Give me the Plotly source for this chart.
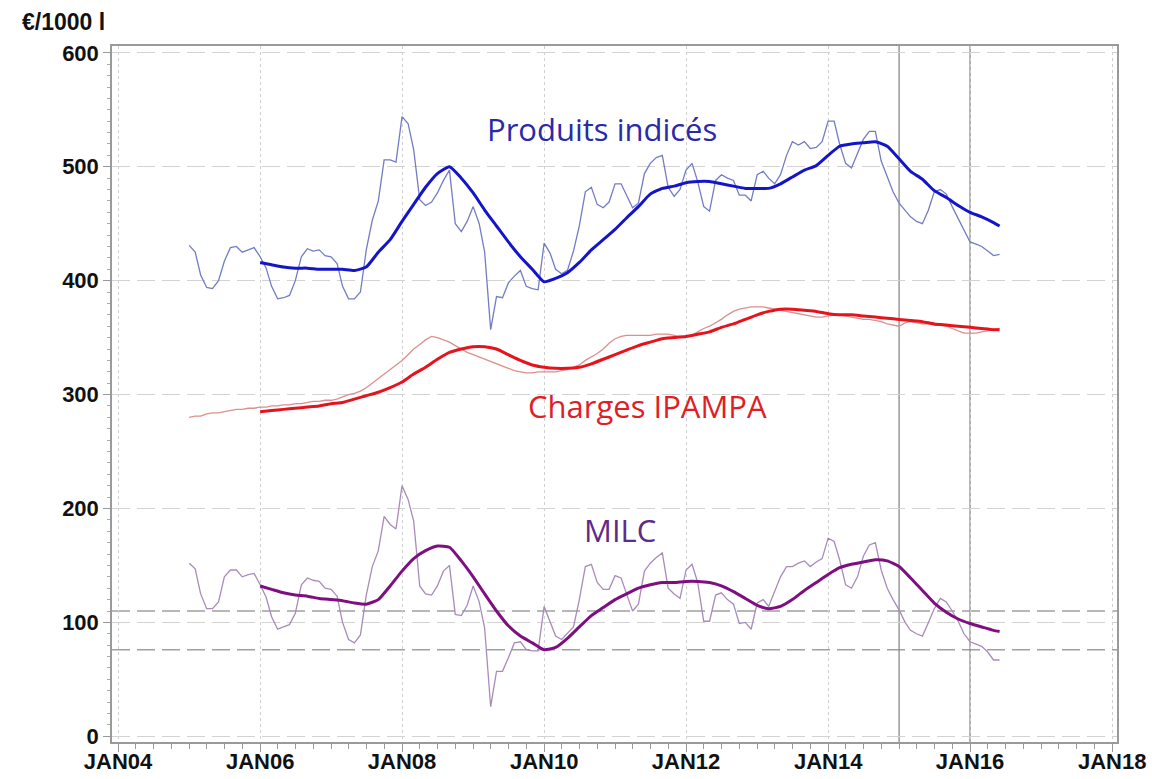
import pandas as pd
import plotly.graph_objects as go

# ---------------- data ----------------
months = pd.date_range("2005-01-01", "2016-06-01", freq="MS")
smooth_dates = list(pd.date_range("2006-01-01", "2016-05-01", freq="2MS")) + [pd.Timestamp("2016-06-01")]

produits = [
    431, 425, 405, 394, 393, 400, 417, 429, 430, 425, 427, 429,   # 2005
    421, 411, 395, 384, 385, 387, 400, 421, 428, 426, 427, 422,   # 2006
    421, 415, 395, 384, 384, 390, 427, 453, 470, 506, 506, 504,   # 2007
    544, 538, 515, 471, 466, 469, 477, 488, 497, 450, 443, 452,   # 2008
    465, 450, 425, 357, 386, 385, 398, 404, 409, 395, 393, 392,   # 2009
    433, 424, 410, 406, 409, 426, 448, 478, 482, 467, 464, 469,   # 2010
    485, 485, 475, 464, 468, 494, 503, 508, 510, 482, 474, 480,   # 2011
    497, 503, 487, 465, 461, 488, 493, 490, 488, 475, 475, 470,   # 2012
    493, 496, 490, 485, 493, 510, 522, 519, 522, 516, 517, 522,   # 2013
    540, 540, 520, 503, 499, 511, 524, 531, 531, 505, 492, 478,   # 2014
    468, 462, 456, 452, 450, 462, 478, 480, 476, 465, 455, 445,   # 2015
    434, 432, 430, 426, 422, 423,                                 # 2016
]
charges = [
    280, 281, 281, 283, 284, 284, 285, 286, 287, 287, 288, 288,
    289, 289, 290, 290, 291, 291, 292, 292, 293, 294, 294, 295,
    295, 296, 298, 300, 301, 303, 306, 310, 314, 318, 322, 326,
    330, 335, 340, 344, 348, 351, 350, 348, 346, 343, 340, 337,
    335, 333, 331, 329, 327, 325, 323, 321, 320, 319, 319, 320,
    320, 320, 320, 321, 322, 324, 326, 330, 333, 336, 340, 345,
    349, 351, 352, 352, 352, 352, 352, 353, 353, 353, 352, 351,
    351, 352, 355, 358, 360, 363, 366, 370, 373, 375, 376, 377,
    377, 377, 376, 375, 374, 373, 372, 371, 370, 369, 368, 368,
    369, 370, 370, 369, 368, 367, 366, 366, 365, 364, 362, 361,
    360, 363, 364, 363, 362, 362, 361, 361, 360, 358, 356, 354,
    354, 354, 355, 356, 357, 358,
]
milc = [
    152, 147, 125, 112, 112, 118, 140, 146, 146, 140, 142, 143,
    133, 122, 105, 94, 96, 98, 108, 133, 139, 137, 136, 130,
    129, 123, 100, 85, 82, 89, 124, 149, 163, 193, 186, 182,
    220, 208, 189, 132, 125, 124, 132, 145, 150, 107, 106, 115,
    132, 118, 95, 26, 57, 57, 69, 82, 83, 76, 75, 75,
    114, 100, 88, 85, 90, 96, 120, 149, 151, 135, 129, 129,
    141, 139, 125, 110, 116, 145, 152, 157, 161, 130, 125, 121,
    146, 151, 135, 101, 101, 124, 126, 120, 116, 99, 100, 94,
    117, 120, 114, 128, 140, 149, 149, 152, 154, 149, 153, 156,
    174, 171, 155, 133, 130, 140, 158, 168, 170, 146, 130, 120,
    111, 100, 93, 90, 88, 100, 112, 121, 118, 110, 101, 90,
    83, 81, 79, 74, 67, 67,
]

# smoothed (12-month) curves, read every two months from Jan 2006, last point Jun 2016
produits_smooth = [
    416, 414, 412, 411, 411, 410,   # 2006
    410, 410, 409, 412, 425, 436,   # 2007
    452, 467, 482, 494, 500, 490,   # 2008
    477, 462, 448, 434, 421, 410,   # 2009
    399, 402, 407, 416, 427, 436,   # 2010
    445, 455, 465, 476, 481, 483,   # 2011
    486, 487, 487, 485, 483, 481,   # 2012
    481, 481, 485, 491, 497, 501,   # 2013
    510, 518, 520, 521, 522, 518,   # 2014
    507, 496, 489, 479, 473, 466,   # 2015
    460, 456, 451, 448,             # 2016
]
charges_smooth = [
    285, 286, 287, 288, 289, 290,
    292, 293, 296, 299, 302, 306,
    311, 318, 324, 331, 337, 340,
    342, 342, 340, 335, 330, 326,
    324, 323, 323, 324, 327, 331,
    335, 339, 343, 346, 349, 350,
    351, 353, 355, 359, 362, 366,
    370, 373, 375, 375, 374, 373,
    371, 370, 370, 369, 368, 367,
    366, 365, 364, 362, 361, 360,
    359, 358, 357, 357,
]
milc_smooth = [
    132, 129, 126, 124, 123, 121,
    120, 119, 117, 116, 120, 132,
    145, 156, 163, 167, 166, 154,
    140, 125, 110, 97, 88, 82,
    76, 78, 86, 96, 106, 113,
    120, 125, 130, 133, 135, 135,
    136, 136, 135, 132, 127, 121,
    115, 112, 114, 120, 128, 135,
    142, 148, 151, 153, 155, 154,
    149, 139, 128, 117, 109, 103,
    99, 96, 93, 92,
]

tick_dates = ["2004-01-01", "2006-01-01", "2008-01-01", "2010-01-01",
              "2012-01-01", "2014-01-01", "2016-01-01", "2018-01-01"]
tick_labels = ["JAN04", "JAN06", "JAN08", "JAN10", "JAN12", "JAN14", "JAN16", "JAN18"]
y_ticks = [0, 100, 200, 300, 400, 500, 600]
ref_levels = [110, 76]
event_dates = ["2015-01-01", "2016-01-01"]

# ---------------- figure ----------------
fig = go.Figure()

thin = [(produits, "#737cc4"), (charges, "#dc8f8f"), (milc, "#a98bbb")]
thick = [(produits_smooth, "#1515c8"), (charges_smooth, "#e5141c"), (milc_smooth, "#7e0f80")]

for vals, col in thin:
    fig.add_trace(go.Scatter(x=months, y=vals, mode="lines",
                             line=dict(color=col, width=1.3), hoverinfo="skip"))
for vals, col in thick:
    fig.add_trace(go.Scatter(x=smooth_dates, y=vals, mode="lines",
                             line=dict(color=col, width=3, shape="spline", smoothing=0.5),
                             hoverinfo="skip"))

for lv in ref_levels:
    fig.add_shape(type="line", xref="paper", x0=0, x1=1, yref="y", y0=lv, y1=lv,
                  line=dict(color="#a0a0a0", width=1.6, dash="18px,7px"), layer="between")
for d in event_dates:
    fig.add_shape(type="line", xref="x", x0=d, x1=d, yref="paper", y0=0, y1=1,
                  line=dict(color="#8a8a8a", width=1.3), layer="between")

label_font = "Open Sans, Noto Sans, sans-serif"
fig.add_annotation(x="2010-10-26", y=533, text="Produits indicés", showarrow=False,
                   font=dict(family=label_font, size=31, color="#2a2aa8"))
fig.add_annotation(x="2011-06-18", y=290, text="Charges IPAMPA", showarrow=False,
                   font=dict(family=label_font, size=31, color="#e01e26"))
fig.add_annotation(x="2011-01-26", y=181, text="MILC", showarrow=False,
                   font=dict(family=label_font, size=31, color="#5e2b86"))
fig.add_annotation(xref="paper", yref="paper", x=-0.092, y=1.0, yshift=24,
                   xanchor="left", yanchor="middle", text="<b>€/1000 l</b>", showarrow=False,
                   font=dict(family="Liberation Sans, Arial, sans-serif", size=23, color="#111"))

fig.update_layout(
    width=1147, height=771,
    margin=dict(l=104, r=38, t=38, b=37, autoexpand=False),
    paper_bgcolor="white", plot_bgcolor="white",
    showlegend=False,
    font=dict(family="Liberation Sans, Arial, sans-serif", color="#111"),
)
fig.update_xaxes(
    type="date", range=["2003-12-01", "2018-01-26"], automargin=False,
    tickmode="array", tickvals=tick_dates, ticktext=tick_labels,
    tickfont=dict(size=22, family="Liberation Sans, Arial, sans-serif", weight="bold"),
    ticks="outside", ticklen=8, tickcolor="#999", tickwidth=1.2,
    ticklabelstandoff=-9,
    showgrid=True, gridcolor="#d0d0d0", griddash="dot", gridwidth=1,
    showline=True, linecolor="#9a9a9a", linewidth=1.5, mirror=True,
    minor=dict(tickmode="linear", tick0="2004-01-01", dtick="M3", ticks="outside",
               ticklen=5, tickcolor="#999", showgrid=False),
    zeroline=False,
)
fig.update_yaxes(
    range=[-5, 606], tickmode="array", tickvals=y_ticks, automargin=False,
    tickfont=dict(size=22, family="Liberation Sans, Arial, sans-serif", weight="bold"),
    ticks="outside", ticklen=7, tickcolor="#999",
    showgrid=True, gridcolor="#d3d3d3", griddash="18px,7px", gridwidth=1,
    showline=True, linecolor="#9a9a9a", linewidth=1.5, mirror=True,
    minor=dict(tickmode="linear", tick0=0, dtick=10, ticks="outside", ticklen=3,
               tickcolor="#aaa", showgrid=False),
    zeroline=False,
)

fig.write_html("out.html")
